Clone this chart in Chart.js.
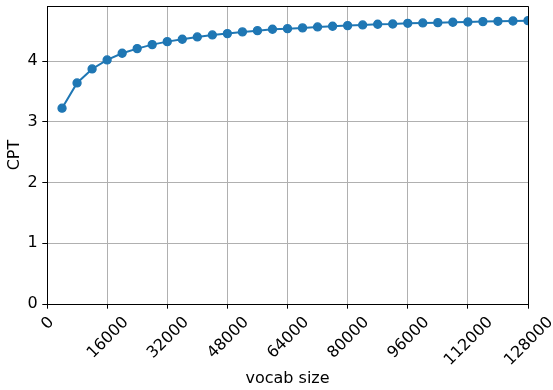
<!DOCTYPE html>
<html>
<head>
<meta charset="utf-8">
<script src="https://cdn.jsdelivr.net/npm/chart.js@4"></script>
<style>
html, body { margin: 0; padding: 0; background: #ffffff; }
canvas { display: block; }
</style>
</head>
<body>
<canvas id="chart" width="553" height="390"></canvas>
<script>
// ---- data ----
const vocabSizes = [4000, 8000, 12000, 16000, 20000, 24000, 28000, 32000,
  36000, 40000, 44000, 48000, 52000, 56000, 60000, 64000,
  68000, 72000, 76000, 80000, 84000, 88000, 92000, 96000,
  100000, 104000, 108000, 112000, 116000, 120000, 124000, 128000];
const cptValues = [3.226, 3.642, 3.873, 4.021, 4.132, 4.208, 4.274, 4.323,
  4.362, 4.400, 4.433, 4.455, 4.483, 4.504, 4.527, 4.537,
  4.549, 4.565, 4.576, 4.587, 4.598, 4.609, 4.614, 4.625,
  4.631, 4.636, 4.642, 4.647, 4.653, 4.658, 4.663, 4.669];
const xTickValues = [0, 16000, 32000, 48000, 64000, 80000, 96000, 112000, 128000];
const yTickValues = [0, 1, 2, 3, 4];
const xAxisLabel = 'vocab size';
const yAxisLabel = 'CPT';

// ---- style ----
const FONT = 'DejaVu Sans';
const FS = 16;
const TICK_LEN = 4.7;
const TICK_PAD = 4.7;
const BLUE = '#1f77b4';
const GRID = '#b0b0b0';

Chart.defaults.font.family = FONT;
Chart.defaults.font.size = FS;
Chart.defaults.color = '#000000';

// matplotlib-like rotated x tick labels (bbox centred on tick) + top/right spines
const mplPlugin = {
  id: 'mplPlugin',
  beforeDraw(chart) {
    const s = chart.scales.x;
    const items = s.getLabelItems(chart.chartArea);
    const ctx = chart.ctx;
    const c = Math.SQRT1_2;
    const top = s.top + TICK_LEN + TICK_PAD;
    items.forEach((it, i) => {
      ctx.save();
      ctx.font = it.font.string;
      const w = ctx.measureText(String(it.label)).width;
      ctx.restore();
      const size = it.font.size;
      const h = 0.99 * size;
      const x = s.getPixelForTick(i);
      it.options.translation = [x, top + (w + h) * c / 2];
      it.options.textAlign = 'center';
      it.options.textBaseline = 'middle';
      it.options.rotation = -Math.PI / 4;
      it.textOffset = 0.08 * size;
    });
  },
  afterDraw(chart) {
    const { ctx, chartArea: a } = chart;
    ctx.save();
    ctx.strokeStyle = '#000000';
    ctx.lineWidth = 1;
    ctx.beginPath();
    ctx.moveTo(Math.round(a.left), Math.round(a.top) + 0.5);
    ctx.lineTo(Math.round(a.right) + 0.5, Math.round(a.top) + 0.5);
    ctx.lineTo(Math.round(a.right) + 0.5, Math.round(a.bottom));
    ctx.stroke();
    ctx.restore();
  }
};

new Chart(document.getElementById('chart'), {
  type: 'line',
  data: {
    datasets: [{
      data: vocabSizes.map((v, i) => ({ x: v, y: cptValues[i] })),
      borderColor: BLUE,
      backgroundColor: BLUE,
      borderWidth: 2,
      pointRadius: 4,
      pointBorderWidth: 1.33,
      pointBackgroundColor: BLUE,
      pointBorderColor: BLUE,
      tension: 0,
      fill: false
    }]
  },
  options: {
    responsive: false,
    animation: false,
    devicePixelRatio: 1,
    layout: { padding: { top: 6, right: 25, left: 0, bottom: 0 } },
    plugins: {
      legend: { display: false },
      tooltip: { enabled: false },
      title: { display: false }
    },
    scales: {
      x: {
        type: 'linear',
        min: 0,
        max: 128000,
        bounds: 'data',
        afterBuildTicks: (s) => { s.ticks = xTickValues.map(v => ({ value: v })); },
        afterFit: (s) => { s.height = 86; s.paddingLeft = 0; s.paddingRight = 0; },
        ticks: {
          autoSkip: false,
          minRotation: 45,
          maxRotation: 45,
          padding: TICK_PAD,
          color: '#000000',
          font: { family: FONT, size: FS },
          callback: (v) => String(v)
        },
        grid: {
          color: GRID,
          lineWidth: 1,
          drawTicks: true,
          tickLength: TICK_LEN,
          tickColor: '#000000',
          tickWidth: 1
        },
        border: { display: true, color: '#000000', width: 1 },
        title: {
          display: true,
          text: xAxisLabel,
          color: '#000000',
          font: { family: FONT, size: FS, lineHeight: 1.2 },
          padding: { top: 0, bottom: 1.6 }
        }
      },
      y: {
        type: 'linear',
        min: 0,
        max: 4.91,
        bounds: 'data',
        afterBuildTicks: (s) => { s.ticks = yTickValues.map(v => ({ value: v })); },
        afterFit: (s) => { s.width = 47; s.paddingTop = 0; s.paddingBottom = 0; },
        ticks: {
          padding: TICK_PAD,
          color: '#000000',
          font: { family: FONT, size: FS },
          callback: (v) => String(v)
        },
        grid: {
          color: GRID,
          lineWidth: 1,
          drawTicks: true,
          tickLength: TICK_LEN,
          tickColor: '#000000',
          tickWidth: 1
        },
        border: { display: true, color: '#000000', width: 1 },
        title: {
          display: true,
          text: yAxisLabel,
          color: '#000000',
          font: { family: FONT, size: FS, lineHeight: 1.2 },
          padding: { top: 5.6, bottom: 0 }
        }
      }
    }
  },
  plugins: [mplPlugin]
});
</script>
</body>
</html>
